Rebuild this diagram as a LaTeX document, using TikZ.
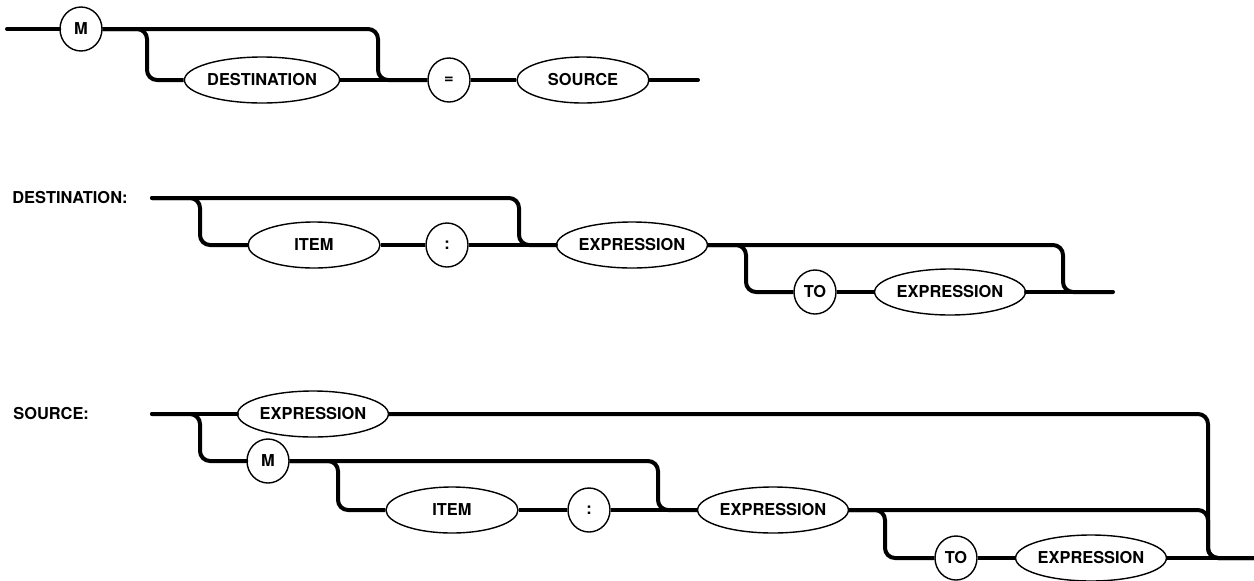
\documentclass[tikz,border=0pt]{standalone}
\usepackage{fontspec}
\setmainfont{TeX Gyre Heros}
\usetikzlibrary{shapes.geometric}

\tikzset{
  rail/.style={line width=2pt, rounded corners=5pt},
  railend/.style={rail, line cap=round},
  nonterminal/.style={draw, ellipse, line width=0.7pt, minimum width=66pt, minimum height=23pt,
    inner sep=0pt, font=\fontsize{8.2}{10}\selectfont\bfseries},
  terminal/.style={nonterminal, minimum width=21pt, minimum height=22pt},
  rulename/.style={anchor=west, inner sep=0pt, font=\fontsize{8.2}{10}\selectfont\bfseries}
}

\begin{document}
\begin{tikzpicture}[x=0.5pt, y=-0.5pt]
  \useasboundingbox (0,0) rectangle (1254,580);
  %% Rows of the three rules
  \pgfmathsetmacro{\rowAtop}{29}
  \pgfmathsetmacro{\rowAlow}{80}
  \pgfmathsetmacro{\rowBtop}{198}
  \pgfmathsetmacro{\rowBmid}{245}
  \pgfmathsetmacro{\rowBlow}{292}
  \pgfmathsetmacro{\rowCtop}{414}
  \pgfmathsetmacro{\rowCone}{461}
  \pgfmathsetmacro{\rowCtwo}{510}
  \pgfmathsetmacro{\rowClow}{558}

  %% M statement
  \coordinate (startA) at (7,\rowAtop);
  \node[terminal] (mA) at (81,\rowAtop) {M};
  \node[nonterminal] (destA) at (262,\rowAlow) {DESTINATION};
  \node[terminal] (eqA) at (449,\rowAlow) {=};
  \node[nonterminal] (srcA) at (583,\rowAlow) {SOURCE};
  \coordinate (endA) at (698,\rowAlow);
  \coordinate (splitA) at (147,55);
  \coordinate (joinA) at (378,55);
  \draw[railend] (startA) -- (mA);
  \draw[rail] (mA.east) -| (splitA) |- (destA.west);
  \draw[rail] (mA.east) -| (joinA) |- (eqA.west);
  \draw[rail] (destA) -- (eqA);
  \draw[rail] (eqA) -- (srcA);
  \draw[railend] (srcA) -- (endA);

  %% DESTINATION rule
  \node[rulename] (destName) at (12,\rowBtop) {DESTINATION:};
  \coordinate (startB) at (152,\rowBtop);
  \node[nonterminal] (itemB) at (314,\rowBmid) {ITEM};
  \node[terminal] (colonB) at (447,\rowBmid) {:};
  \node[nonterminal] (exprB) at (632,\rowBmid) {EXPRESSION};
  \node[terminal] (toB) at (815,\rowBlow) {TO};
  \node[nonterminal] (exprBto) at (950,\rowBlow) {EXPRESSION};
  \coordinate (endB) at (1113,\rowBlow);
  \coordinate (splitB) at (200,221);
  \coordinate (joinB) at (519,221);
  \coordinate (splitBto) at (746,268);
  \coordinate (joinBto) at (1063,268);
  \draw[railend] (startB) -| (splitB) |- (itemB.west);
  \draw[railend] (startB) -| (joinB) |- (exprB.west);
  \draw[rail] (itemB) -- (colonB);
  \draw[rail] (colonB) -- (exprB);
  \draw[rail] (exprB.east) -| (splitBto) |- (toB.west);
  \draw[rail] (exprB.east) -| (joinBto) |- (endB);
  \draw[rail] (toB) -- (exprBto);
  \draw[railend] (exprBto) -- (endB);

  %% SOURCE rule
  \node[rulename] (srcName) at (13,\rowCtop) {SOURCE:};
  \coordinate (startC) at (152,\rowCtop);
  \node[nonterminal] (exprC) at (313,\rowCtop) {EXPRESSION};
  \node[terminal] (mC) at (268,\rowCone) {M};
  \node[nonterminal] (itemC) at (452,\rowCtwo) {ITEM};
  \node[terminal] (colonC) at (589,\rowCtwo) {:};
  \node[nonterminal] (exprCm) at (773,\rowCtwo) {EXPRESSION};
  \node[terminal] (toC) at (956,\rowClow) {TO};
  \node[nonterminal] (exprCto) at (1091,\rowClow) {EXPRESSION};
  \coordinate (endC) at (1254,\rowClow);
  \coordinate (splitC) at (200,437);
  \coordinate (splitCm) at (338,485);
  \coordinate (joinCm) at (658,485);
  \coordinate (splitCto) at (885,534);
  \coordinate (joinC) at (1208,485);
  \coordinate (joinCto) at (1208,534);
  \draw[railend] (startC) -- (exprC);
  \draw[railend] (startC) -| (splitC) |- (mC.west);
  \draw[rail] (exprC.east) -| (joinC) |- (endC);
  \draw[rail] (mC.east) -| (splitCm) |- (itemC.west);
  \draw[rail] (mC.east) -| (joinCm) |- (exprCm.west);
  \draw[rail] (itemC) -- (colonC);
  \draw[rail] (colonC) -- (exprCm);
  \draw[rail] (exprCm.east) -| (splitCto) |- (toC.west);
  \draw[rail] (exprCm.east) -| (joinCto) |- (endC);
  \draw[rail] (toC) -- (exprCto);
  \draw[rail] (exprCto) -- (endC);
\end{tikzpicture}
\end{document}
